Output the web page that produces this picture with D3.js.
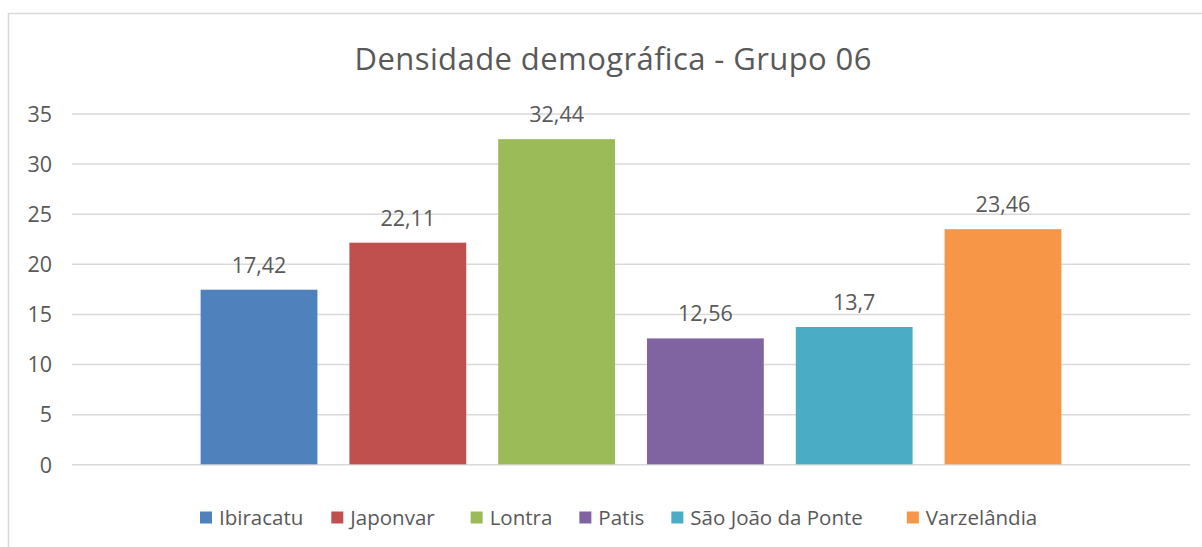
<!DOCTYPE html>
<html>
<head>
<meta charset="utf-8">
<script src="https://cdn.jsdelivr.net/npm/d3@7"></script>
<style>
  html, body { margin: 0; padding: 0; background: #fff; }
  svg { display: block; }
  text { font-family: "Open Sans", "Noto Sans", sans-serif; fill: #595959; }
</style>
</head>
<body>
<svg id="chart" width="1202" height="547"></svg>
<script>
// Chart data
const title = "Densidade demográfica - Grupo 06";
const categories = ["Grupo 06"];
const seriesNames = ["Ibiracatu", "Japonvar", "Lontra", "Patis", "São João da Ponte", "Varzelândia"];
const seriesValues = [17.42, 22.11, 32.44, 12.56, 13.7, 23.46];
const seriesColors = ["#4F81BD", "#C0504D", "#9BBB59", "#8064A2", "#4BACC6", "#F79646"];
const yTicks = [0, 5, 10, 15, 20, 25, 30, 35];

const svg = d3.select("#chart");
const W = 1202, H = 547;
const plot = { left: 72, right: 1190, top: 113.5, bottom: 464.3 };

// Chart area frame
svg.append("rect")
  .attr("x", 8.5).attr("y", 13.5)
  .attr("width", W + 20).attr("height", H + 20)
  .attr("fill", "#fff")
  .attr("stroke", "#D9D9D9").attr("stroke-width", 1.5);

// Title
svg.append("text")
  .attr("x", 613).attr("y", 70)
  .attr("text-anchor", "middle")
  .attr("font-size", 31)
  .attr("textLength", 517)
  .attr("lengthAdjust", "spacing")
  .text(title);

// Scales
const y = d3.scaleLinear().domain([0, 35]).range([plot.bottom, plot.top]);
const x0 = d3.scaleBand().domain(categories)
  .range([plot.left, plot.right]).paddingInner(0.13).paddingOuter(0.13);
const x1 = d3.scaleBand().domain(seriesNames)
  .range([0, x0.bandwidth()]).paddingInner(0.215).paddingOuter(0);

// Horizontal gridlines + value axis labels
const yAxis = d3.axisLeft(y)
  .tickValues(yTicks)
  .tickSize(-(plot.right - plot.left))
  .tickPadding(20)
  .tickFormat(d3.format("d"));

const gy = svg.append("g")
  .attr("transform", `translate(${plot.left},0)`)
  .call(yAxis);
gy.select(".domain").remove();
gy.selectAll(".tick line").attr("stroke", "#D9D9D9").attr("stroke-width", 1.5);
gy.selectAll(".tick text")
  .attr("font-size", 21.5)
  .attr("font-family", "'Open Sans', sans-serif")
  .attr("fill", "#595959")
  .attr("dy", "0.36em");

// Bars
const rows = seriesNames.map((name, i) => ({ name, value: seriesValues[i], color: seriesColors[i] }));
const grp = svg.append("g").attr("transform", `translate(${x0(categories[0])},0)`);

grp.selectAll("rect.bar")
  .data(rows)
  .join("rect")
  .attr("class", "bar")
  .attr("x", d => x1(d.name))
  .attr("y", d => y(d.value))
  .attr("width", x1.bandwidth())
  .attr("height", d => y(0) - y(d.value))
  .attr("fill", d => d.color);

// Value labels
const fmt = v => String(v).replace(".", ",");
grp.selectAll("text.val")
  .data(rows)
  .join("text")
  .attr("class", "val")
  .attr("x", d => x1(d.name) + x1.bandwidth() / 2)
  .attr("y", d => y(d.value) - 17)
  .attr("text-anchor", "middle")
  .attr("font-size", 21.5)
  .text(d => fmt(d.value));

// Legend
const legend = svg.append("g").attr("transform", "translate(200,0)");
const legendY = 517.5;
let lx = 0;
const gaps = [28, 36, 27, 27, 44];
rows.forEach((d, i) => {
  const item = legend.append("g").attr("transform", `translate(${lx},0)`);
  item.append("rect")
    .attr("x", 0).attr("y", legendY - 6)
    .attr("width", 12).attr("height", 12)
    .attr("fill", d.color);
  const t = item.append("text")
    .attr("x", 19).attr("y", legendY)
    .attr("dy", "0.35em")
    .attr("font-size", 20.5)
    .text(d.name);
  const w = t.node().getComputedTextLength();
  lx += 19 + w + (gaps[i] || 0);
});
</script>
</body>
</html>
